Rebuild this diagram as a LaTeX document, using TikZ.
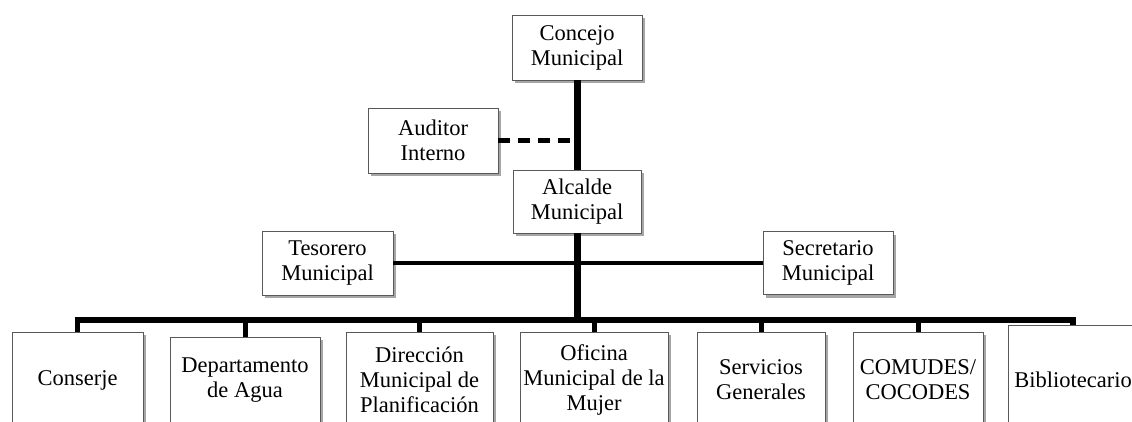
\documentclass[tikz,border=0pt]{standalone}
\usepackage{fontspec}
\setmainfont{Liberation Serif}
\usetikzlibrary{shadows}
\begin{document}
\begin{tikzpicture}[x=1pt,y=-1pt,
  box/.style={draw=black!65, line width=0.8pt, fill=white,
    drop shadow={shadow xshift=3pt, shadow yshift=-3pt, fill=black!35, opacity=1},
    inner sep=0pt, align=center, font=\fontsize{22.5}{25}\selectfont},
  trunk/.style={line width=7pt, black},
  barline/.style={line width=5.5pt, black, line join=miter},
  drop/.style={line width=5pt, black},
  side/.style={line width=4.5pt, black},
  dashline/.style={line width=5pt, black, dash pattern=on 12pt off 8pt}]
\clip (0,0) rectangle (1132,422);
\fill[white] (0,0) rectangle (1132,422);
% upper boxes
\node[box, minimum width=130pt, minimum height=65pt] (conc) at (577,47.5) {Concejo\\Municipal};
\node[box, minimum width=130pt, minimum height=65pt] (aud) at (433,140.5) {Auditor\\Interno};
\node[box, minimum width=128pt, minimum height=63pt] (alc) at (577,201.5) {Alcalde\\Municipal};
\node[box, minimum width=131pt, minimum height=64pt] (tes) at (327.5,263) {Tesorero\\Municipal};
\node[box, minimum width=130pt, minimum height=63pt] (sec) at (828,263) {Secretario\\Municipal};
% bottom boxes
\node[box, minimum width=131pt, minimum height=96pt] (cons) at (77.5,380) {Conserje};
\node[box, minimum width=150pt, minimum height=86pt] (dep) at (245,380) {Departamento\\de Agua};
\node[box, minimum width=147pt, minimum height=96pt] (dir) at (419.5,380) {Dirección\\Municipal de\\Planificación};
\node[box, minimum width=148pt, minimum height=96pt] (ofi) at (594,380) {Oficina\\Municipal de la\\Mujer};
\node[box, minimum width=128pt, minimum height=96pt] (serv) at (761,380) {Servicios\\Generales};
\node[box, minimum width=130pt, minimum height=96pt] (com) at (918,380) {COMUDES/\\COCODES};
\node[box, minimum width=130pt, minimum height=110pt] (bib) at (1073,380) {Bibliotecario};
% connectors
\coordinate (bar) at (577,320);
\draw[trunk] (conc.south) -- (alc.north);
\draw[trunk] (alc.south) -- (alc.south |- bar);
\draw[dashline] (aud.east) -- (aud.east -| conc.south);
\draw[side] (tes.east) -- (sec.west);
\draw[barline] (cons.north) -- (cons.north |- bar) -- (bib.north |- bar) -- (bib.north);
\foreach \n in {dep,dir,ofi,serv,com}
  \draw[drop] (\n.north) -- (\n.north |- bar);
\end{tikzpicture}
\end{document}
